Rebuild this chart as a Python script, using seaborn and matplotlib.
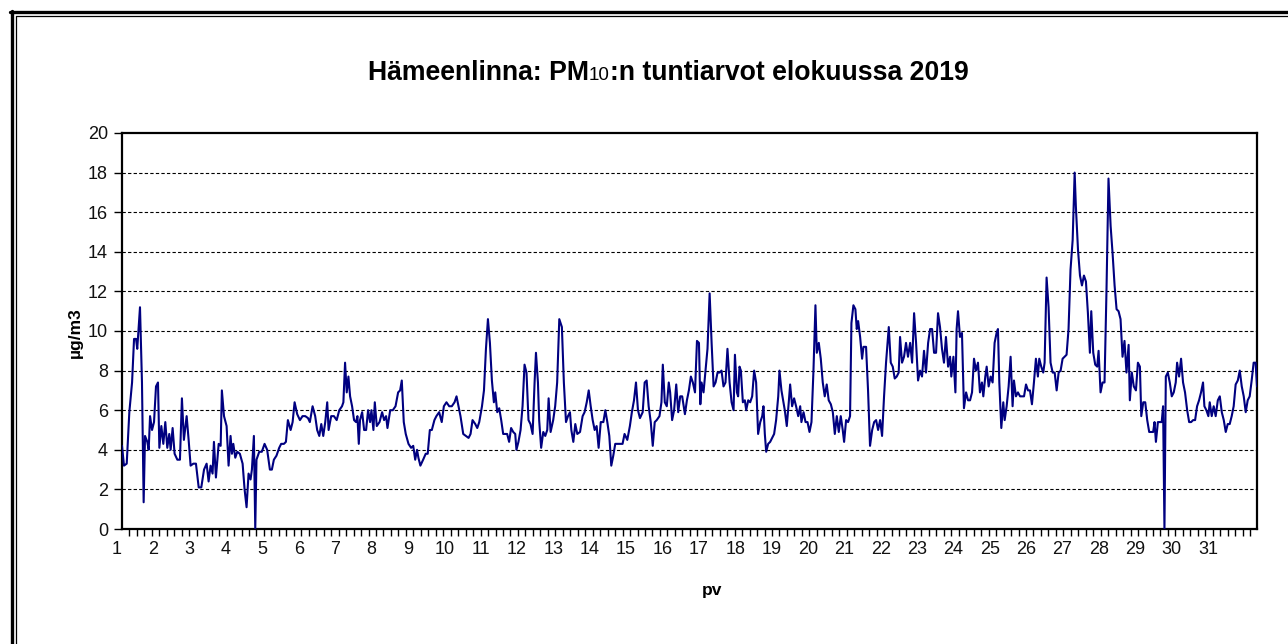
import numpy as np
import pandas as pd
import matplotlib
matplotlib.use("Agg")
import matplotlib.pyplot as plt
import matplotlib.transforms as mtransforms
import seaborn as sns
from matplotlib.offsetbox import TextArea, HPacker, AnnotationBbox
from matplotlib.lines import Line2D
from matplotlib.ticker import MultipleLocator, FixedLocator

sns.set_theme(style="white")
plt.rcParams['font.family'] = ['Liberation Sans', 'DejaVu Sans']

# ---- data (hour of month, PM10 µg/m3) ----
hours_1 = [0, 1.3, 3.1, 4.8, 6.6, 7.9, 9.2, 10.0, 11.8, 13.1, 14.2, 15.1, 16.6, 17.5, 18.4, 19.7, 21.0, 22.3, 23.6,
           24.5, 25.8, 27.1, 28.4, 29.7, 31.0, 31.9, 33.2, 34.5, 36.3, 38.0, 39.3, 40.6, 42.4, 43.7, 45.0, 46.8, 48.5,
           50.3, 52.0, 53.8, 55.5, 56.8, 58.1, 59.4, 60.3, 61.6, 63.4, 64.7, 65.5, 66.9, 68.6, 69.9, 71.2, 72.1, 73.0,
           74.3, 75.6, 77.3, 79.1, 80.4, 81.7, 83.0, 84.3, 85.2, 86.5, 87.4, 88.2, 90.0]
pm10_1 = [4.2, 3.2, 3.3, 5.9, 7.4, 9.6, 9.6, 9.1, 11.2, 7.4, 1.35, 4.7, 4.4, 4.0, 5.7, 5.0, 5.4, 7.2, 7.4,
          4.1, 5.2, 4.3, 5.4, 4.1, 4.8, 4.0, 5.1, 3.8, 3.5, 3.5, 6.6, 4.5, 5.7, 4.5, 3.2, 3.3, 3.3,
          2.1, 2.1, 3.0, 3.3, 2.4, 3.2, 2.8, 4.4, 2.6, 4.3, 4.2, 7.0, 5.7, 5.2, 3.2, 4.7, 3.8, 4.3,
          3.6, 3.9, 3.8, 3.3, 2.0, 1.1, 2.8, 2.5, 3.0, 4.7, 0.0, 3.5, 3.9]

hours_2 = [91.7, 93.5, 95.2, 97.0, 98.3, 99.6, 101.3, 103.1, 104.4, 106.2, 107.5, 108.8, 110.6, 111.9, 113.2, 114.9,
           116.7, 118.4, 120.2, 122.0, 123.2, 125.0, 126.7, 128.0, 129.4, 130.7, 132.0, 133.3, 134.6, 135.5, 137.2,
           139.0, 140.8, 142.5, 144.3, 145.2, 146.3, 147.4, 148.5, 149.6, 150.9, 152.2, 153.5, 154.4, 155.3, 156.1,
           157.5, 158.8, 160.1, 161.4, 162.7, 163.6, 164.9, 165.8, 167.1, 168.9, 170.6, 171.9, 173.2, 174.1, 175.9,
           177.6, 179.4, 181.1, 182.4]
pm10_2 = [3.9, 4.3, 4.0, 3.0, 3.0, 3.5, 3.7, 4.1, 4.3, 4.3, 4.4, 5.5, 5.0, 5.4, 6.4, 5.8,
          5.5, 5.7, 5.7, 5.6, 5.4, 6.2, 5.7, 5.0, 4.7, 5.3, 4.7, 5.4, 6.4, 5.0, 5.7,
          5.7, 5.5, 6.0, 6.2, 6.4, 8.4, 6.9, 7.7, 6.7, 6.2, 5.5, 5.4, 5.7, 4.3, 5.5,
          5.9, 5.0, 5.0, 6.0, 5.4, 6.0, 5.0, 6.4, 5.2, 5.4, 5.9, 5.5, 5.7, 5.1, 6.0,
          6.0, 6.2, 6.9, 7.0]

hours_3 = [183.5, 184.8, 186.1, 187.9, 189.6, 191.0, 192.3, 193.5, 194.4, 195.7, 197.5, 199.2, 200.5, 201.9, 203.2,
           204.9, 206.2, 208.0, 209.7, 211.1, 212.8, 214.6, 216.3, 218.1, 219.4, 220.7, 222.0, 223.8, 225.5, 227.3,
           228.6, 229.9, 231.7, 233.0, 234.3, 236.1, 237.4, 238.7, 240.0, 241.3, 242.6, 243.9, 244.8, 246.1, 247.4,
           248.7, 250.0, 251.3, 252.6, 253.9, 255.2, 256.6, 257.9, 258.7, 260.0, 261.4, 262.7, 264.0, 265.3, 266.6,
           267.9, 269.3, 270.6, 271.5, 272.8, 273.6, 274.9, 276.3, 277.6, 278.9, 279.8, 281.1, 282.8, 284.1, 285.4]
pm10_3 = [7.5, 5.4, 4.8, 4.3, 4.1, 4.2, 3.5, 4.0, 3.6, 3.2, 3.5, 3.8, 3.8, 5.0, 5.0,
          5.5, 5.7, 5.9, 5.4, 6.2, 6.4, 6.2, 6.2, 6.4, 6.7, 6.2, 5.7, 4.8, 4.7, 4.6,
          4.8, 5.5, 5.3, 5.1, 5.4, 6.2, 7.0, 9.1, 10.6, 9.4, 7.5, 6.4, 6.9, 5.9, 6.1,
          5.5, 4.8, 4.8, 4.8, 4.4, 5.1, 4.9, 4.8, 4.0, 4.4, 5.0, 6.2, 8.3, 7.9, 5.5,
          5.3, 4.8, 7.4, 8.9, 7.4, 5.5, 4.1, 4.9, 4.7, 5.0, 6.6, 4.9, 5.5, 6.2, 7.4]

hours_4 = [286.8, 288.5, 289.8, 291.2, 292.5, 293.8, 294.7, 296.0, 297.3, 298.6, 300.4, 302.1, 303.4, 304.8, 306.1,
           307.4, 308.7, 310.0, 311.3, 312.6, 314.0, 315.7, 317.0, 318.3, 319.6, 320.9, 322.2, 323.5, 325.3, 327.0,
           328.3, 329.6, 331.4, 333.1, 334.4, 335.8, 337.1, 338.4, 339.7, 341.5, 342.8, 344.1, 345.4, 346.8, 348.1,
           349.4, 350.7, 352.5, 353.8, 354.7, 356.0, 357.3, 358.6, 359.5, 360.8, 362.1, 363.5, 364.8, 366.1, 367.4,
           369.2, 370.5, 371.8, 373.1, 374.4, 375.8, 377.1, 378.4, 379.3]
pm10_4 = [10.6, 10.2, 7.4, 5.4, 5.7, 5.9, 5.0, 4.4, 5.3, 4.8, 4.9, 5.7, 5.9, 6.4, 7.0,
          6.2, 5.5, 5.0, 5.2, 4.1, 5.4, 5.4, 6.0, 5.4, 4.7, 3.2, 3.7, 4.3, 4.3, 4.3,
          4.3, 4.8, 4.5, 5.2, 5.9, 6.5, 7.4, 6.0, 5.6, 5.9, 7.4, 7.5, 6.2, 5.4, 4.2,
          5.4, 5.5, 5.7, 6.4, 8.3, 6.4, 6.2, 7.4, 6.9, 5.5, 6.0, 7.3, 5.9, 6.7, 6.7,
          5.8, 6.5, 7.0, 7.7, 7.4, 6.9, 9.5, 9.4, 6.3]

hours_5 = [380.1, 381.4, 382.7, 384.0, 385.4, 386.7, 388.0, 389.3, 390.6, 391.9, 393.2, 394.5, 395.8, 397.1, 398.5,
           399.8, 401.1, 402.0, 403.3, 404.1, 405.0, 405.9, 407.2, 408.5, 409.4, 410.7, 412.0, 413.3, 414.6, 415.9,
           417.2, 418.6, 419.9, 420.7, 421.6, 422.5, 423.8, 425.1, 426.4, 427.7, 429.0, 430.4, 431.2, 432.5, 433.8,
           434.7, 436.0, 437.3, 438.2, 439.5, 440.8, 442.1, 443.5, 444.8, 445.6, 447.0, 448.3, 449.6, 450.9, 452.2,
           453.5, 454.8, 455.7, 457.0, 458.3, 459.6, 460.9, 462.2, 463.5, 464.9, 466.2, 467.5, 468.8, 470.1, 471.4,
           472.7, 473.6, 474.9, 476.2, 477.5, 478.4, 479.7, 481.0, 481.9]
pm10_5 = [7.4, 6.9, 8.0, 9.1, 11.9, 9.4, 7.2, 7.4, 7.9, 7.9, 8.0, 7.2, 7.4, 9.1, 7.4,
          6.4, 6.0, 8.8, 6.9, 6.7, 8.2, 8.0, 6.4, 6.5, 6.0, 6.5, 6.4, 6.7, 8.0, 7.4,
          4.8, 5.4, 5.7, 6.2, 4.8, 3.9, 4.3, 4.4, 4.6, 4.8, 5.5, 6.7, 8.0, 7.0, 6.4,
          6.0, 5.2, 6.4, 7.3, 6.2, 6.6, 6.2, 5.7, 6.2, 5.4, 5.9, 5.4, 5.4, 4.9, 5.4,
          8.0, 11.3, 8.9, 9.4, 8.6, 7.4, 6.7, 7.3, 6.5, 6.3, 5.9, 4.8, 5.7, 4.9, 5.7,
          5.0, 4.4, 5.5, 5.4, 5.7, 10.4, 11.3, 11.1, 10.1]

hours_6 = [482.8, 484.1, 485.4, 486.3, 488.0, 489.3, 490.6, 492.0, 493.3, 494.6, 495.9, 497.2, 498.5, 499.8, 501.1,
           502.9, 504.2, 505.5, 506.8, 508.1, 509.4, 510.3, 511.6, 512.9, 514.2, 515.5, 516.9, 518.2, 519.5, 520.8,
           522.1, 523.4, 524.7, 526.0, 527.3, 528.7, 530.0, 531.3, 532.6, 533.9, 535.2, 536.5, 537.8, 539.1, 540.4,
           541.8, 543.1, 543.9, 545.3, 546.6, 547.4, 548.3, 549.6, 550.9, 552.2, 553.6, 554.9, 556.2, 557.5, 558.8,
           560.1, 561.4, 562.7, 564.0, 564.9, 566.2, 567.1, 568.4, 569.7, 571.0, 572.3, 573.6, 574.5, 575.4]
pm10_6 = [10.5, 9.7, 8.6, 9.2, 9.2, 7.0, 4.2, 5.0, 5.4, 5.5, 5.0, 5.5, 4.7, 6.7, 8.4,
          10.2, 8.4, 8.2, 7.6, 7.7, 7.9, 9.7, 8.4, 8.7, 9.4, 8.7, 9.4, 8.4, 10.9, 9.4,
          7.5, 8.0, 7.7, 9.0, 7.9, 9.4, 10.1, 10.1, 8.9, 8.9, 10.9, 10.2, 9.1, 8.4, 9.7,
          8.2, 8.7, 7.7, 8.7, 6.9, 10.1, 11.0, 9.7, 9.9, 6.1, 6.9, 6.5, 6.5, 6.9, 8.6,
          8.0, 8.4, 6.9, 7.4, 6.7, 7.7, 8.2, 7.2, 7.7, 7.4, 9.4, 9.9, 10.1, 7.4]

hours_7 = [576.7, 578.0, 578.9, 580.2, 581.5, 582.8, 584.1, 585.0, 586.3, 587.6, 589.0, 590.3, 591.6, 592.9, 594.2,
           595.5, 596.8, 598.1, 599.4, 600.7, 601.6, 602.9, 604.2, 605.1, 606.4, 607.7, 609.0, 610.4, 611.7, 613.0,
           614.3, 615.6, 616.9, 618.2, 619.5, 620.8, 622.1, 623.5, 624.8, 625.6, 627.0, 628.3, 629.6, 630.9, 632.2,
           633.5, 634.8, 635.7, 637.0, 638.3, 639.6, 640.5, 641.8, 643.1, 644.4, 645.7, 647.0, 648.4, 649.7, 651.0,
           652.3, 653.6, 654.9, 656.2, 657.5, 658.8, 660.2, 661.0, 662.3, 663.6, 665.0, 666.3, 667.6, 668.5, 669.8,
           671.1, 672.4, 673.7, 675.0, 676.3, 677.2, 678.1, 679.4]
pm10_7 = [5.1, 6.4, 5.5, 6.2, 7.2, 8.7, 6.2, 7.5, 6.7, 6.9, 6.7, 6.7, 6.7, 7.3, 7.0,
          7.0, 6.3, 7.4, 8.6, 7.7, 8.6, 8.2, 7.9, 8.4, 12.7, 11.2, 8.4, 7.9, 7.9, 7.0,
          7.9, 8.0, 8.6, 8.7, 8.8, 10.1, 13.1, 14.6, 18.0, 16.3, 14.1, 12.8, 12.3, 12.8, 12.5,
          10.9, 8.9, 11.0, 8.9, 8.3, 8.2, 9.0, 6.9, 7.4, 7.4, 12.1, 17.7, 15.3, 13.9, 12.3,
          11.1, 11.0, 10.6, 8.7, 9.5, 7.9, 9.3, 6.5, 7.9, 7.2, 7.0, 8.4, 8.2, 5.7, 6.4,
          6.4, 5.5, 4.9, 4.9, 4.9, 5.4, 4.4, 5.4]

hours_8 = [680.6, 681.9, 682.8, 683.7, 684.6, 685.9, 687.2, 688.5, 689.8, 691.1, 692.0, 693.3, 694.6, 695.9, 697.2,
           698.6, 699.9, 701.2, 702.5, 703.8, 705.1, 706.4, 707.7, 709.0, 709.9, 711.2, 712.5, 713.4, 714.7, 716.0,
           717.3, 718.7, 720.0, 721.3, 722.6, 723.9, 725.2, 726.5, 727.8, 729.1, 730.4, 731.8, 733.1, 734.4, 735.7,
           737.0, 738.3, 739.6, 740.9, 742.2, 743.5, 744.4]
pm10_8 = [5.4, 5.4, 6.2, 0.0, 7.7, 7.9, 7.4, 6.7, 6.9, 7.4, 8.4, 7.7, 8.6, 7.4, 6.9,
          6.0, 5.4, 5.4, 5.5, 5.5, 6.2, 6.5, 6.9, 7.4, 6.2, 6.0, 5.7, 6.4, 5.7, 6.2,
          5.7, 6.5, 6.7, 5.9, 5.5, 4.9, 5.3, 5.3, 5.7, 6.2, 7.3, 7.5, 8.0, 7.2, 6.7,
          5.9, 6.5, 6.7, 7.5, 8.4, 8.4, 7.2]

day_labels = [str(d) for d in range(1, 32)]
y_ticks = list(range(0, 21, 2))
title_parts = ["Hämeenlinna: PM", "10", ":n tuntiarvot elokuussa 2019"]
y_label = "µg/m3"
x_label = "pv"

hours = hours_1 + hours_2 + hours_3 + hours_4 + hours_5 + hours_6 + hours_7 + hours_8
pm10 = pm10_1 + pm10_2 + pm10_3 + pm10_4 + pm10_5 + pm10_6 + pm10_7 + pm10_8
df = pd.DataFrame({"hour": hours, "pm10": pm10})

W, H = 1288, 644
fig = plt.figure(figsize=(W / 100, H / 100), dpi=100)
fig.patch.set_facecolor("white")

L, R, T, B = 122, 1257, 133, 529
ax = fig.add_axes([L / W, 1 - B / H, (R - L) / W, (B - T) / H])
ax.set_facecolor("white")

# gridlines (behind the line)
for yv in y_ticks[1:-1]:
    ax.axhline(yv, color="black", linewidth=0.8, linestyle=(0, (3, 2)), zorder=1)

sns.lineplot(data=df, x="hour", y="pm10", ax=ax, color="#000080", linewidth=1.5,
             estimator=None, sort=False, zorder=3)

ax.set_xlim(0, max(hours))
ax.set_ylim(0, 20)
ax.set_xlabel("")
ax.set_ylabel("")

for s in ax.spines.values():
    s.set_visible(True)
    s.set_color("black")
    s.set_linewidth(1.6)

ax.yaxis.set_major_locator(FixedLocator(y_ticks))
ax.set_yticklabels([str(v) for v in y_ticks], fontsize=13, color="#111111")
ax.tick_params(axis="y", which="major", direction="out", length=6, width=1, color="black",
               left=True, pad=4)

# one label per day (every 24 hourly categories); Excel draws them a few px to the left
day_pos = [23.85 * i for i in range(len(day_labels))]
ax.xaxis.set_major_locator(FixedLocator(day_pos))
ax.set_xticklabels(day_labels, fontsize=13, color="#111111")
ax.tick_params(axis="x", which="major", length=0, pad=9, bottom=True)
shift = mtransforms.ScaledTranslation(-5 / 100, 0, fig.dpi_scale_trans)
for lab in ax.get_xticklabels():
    lab.set_transform(lab.get_transform() + shift)
ax.xaxis.set_minor_locator(MultipleLocator(4.9))
ax.tick_params(axis="x", which="minor", direction="out", length=5, width=1, color="black", bottom=True)

# title with smaller "10"
ta1 = TextArea(title_parts[0], textprops=dict(fontsize=19.2, fontweight="bold", color="black"))
ta2 = TextArea(title_parts[1], textprops=dict(fontsize=13.5, fontweight="normal", color="black"))
ta3 = TextArea(title_parts[2], textprops=dict(fontsize=19.2, fontweight="bold", color="black"))
pack = HPacker(children=[ta1, ta2, ta3], align="baseline", pad=0, sep=0)
ab = AnnotationBbox(pack, (668 / W, 1 - 73 / H), xycoords="figure fraction", frameon=False,
                    box_alignment=(0.5, 0.5))
fig.add_artist(ab)

fig.text(75 / W, 1 - 333 / H, y_label, rotation=90, ha="center", va="center",
         fontsize=12.5, fontweight="bold", color="black")
fig.text(712 / W, 1 - 591 / H, x_label, ha="center", va="center",
         fontsize=12.5, fontweight="bold", color="black")

# double outer frame (left and top)
fig.add_artist(Line2D([11.5 / W, 11.5 / W], [0, 1 - 11 / H], transform=fig.transFigure,
                      color="black", linewidth=2.4))
fig.add_artist(Line2D([15.5 / W, 15.5 / W], [0, 1 - 15.5 / H], transform=fig.transFigure,
                      color="black", linewidth=0.9))
fig.add_artist(Line2D([10 / W, 1], [1 - 11.5 / H, 1 - 11.5 / H], transform=fig.transFigure,
                      color="black", linewidth=2.4))
fig.add_artist(Line2D([15.5 / W, 1], [1 - 15.5 / H, 1 - 15.5 / H], transform=fig.transFigure,
                      color="black", linewidth=0.9))

fig.savefig("out.png", dpi=100, facecolor="white")
